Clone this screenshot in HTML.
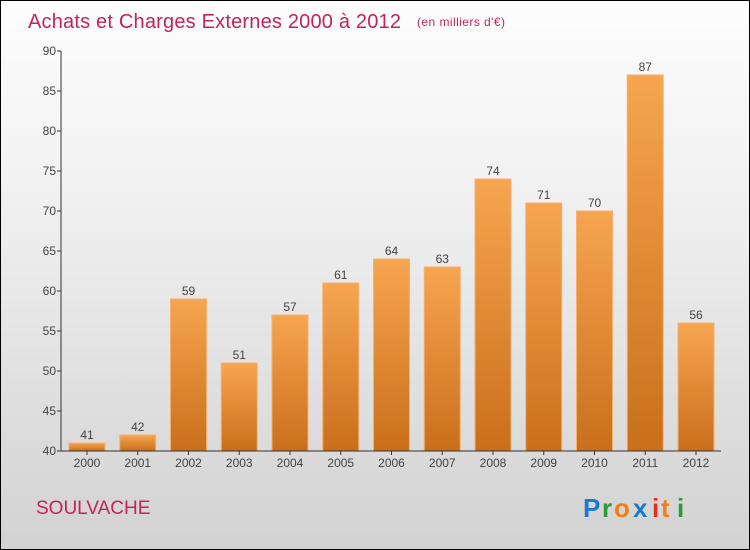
<!DOCTYPE html>
<html><head><meta charset="utf-8"><style>
body{margin:0;}
#c{width:750px;height:550px;position:relative;box-sizing:border-box;border:1px solid #000;background:linear-gradient(#fdfdfd,#f3f3f3 30%,#d2d2d2);font-family:"Liberation Sans",sans-serif;overflow:hidden}
</style></head><body>
<div id="c">
<svg width="748" height="548" style="position:absolute;left:0;top:0" id="svg">
<defs><linearGradient id="bg" x1="0" y1="0" x2="0" y2="1"><stop offset="0" stop-color="#f7a550"/><stop offset="1" stop-color="#c96f1c"/></linearGradient></defs>
<text x="27" y="27" font-size="20" textLength="373" fill="#c2245a">Achats et Charges Externes 2000 à 2012</text>
<text x="416" y="25" font-size="12" textLength="88" fill="#c2245a">(en milliers d'€)</text>
<text x="35" y="513" font-size="19" fill="#c2245a">SOULVACHE</text>
<g font-size="26" font-weight="bold" font-family="'Liberation Sans',sans-serif">
<text x="582" y="516" fill="#1a78d0">P</text><text x="601" y="516" fill="#2a9a3a">r</text><text x="613" y="516" fill="#f08010">o</text><text x="632" y="516" fill="#1a78d0">x</text><text x="651" y="516" fill="#e03020">i</text><text x="660" y="516" fill="#f08010">t</text><text x="676" y="516" fill="#2a9a3a">i</text>
</g>
<g id="plot"></g>
</svg>
</div>
<script>
const categories=["2000","2001","2002","2003","2004","2005","2006","2007","2008","2009","2010","2011","2012"];
const values=[41,42,59,51,57,61,64,63,74,71,70,87,56];
const yTicks=[40,45,50,55,60,65,70,75,80,85,90];
const NS="http://www.w3.org/2000/svg";
const g=document.getElementById('plot');
const x0=60,x1=720,yMin=40,yMax=90,yB=450,yT=50;
const y=v=>yB-(v-yMin)/(yMax-yMin)*(yB-yT);
function mk(t,a,txt){const e=document.createElementNS(NS,t);for(const k in a)e.setAttribute(k,a[k]);if(txt!=null)e.textContent=txt;g.appendChild(e);return e;}
yTicks.forEach(t=>{
 const l=mk('line',{x1:x0-4,x2:x0,y1:y(t),y2:y(t),stroke:'#333'});
 
 
 const tx=mk('text',{x:x0-5,y:y(t)+4,'text-anchor':'end','font-size':12,fill:'#444'},t);
 
 
});
categories.forEach((c,i)=>{
 const cx=86+i*50.75,w=36;
 const r=mk('rect',{x:cx-w/2,y:y(values[i]),width:w,height:yB-y(values[i]),fill:'url(#bg)',stroke:'#f7b070','stroke-width':1});
 
 
 const v=mk('text',{x:cx,y:y(values[i])-4,'text-anchor':'middle','font-size':12,fill:'#444'},values[i]);
 
 
 const xl=mk('text',{x:cx,y:yB+16,'text-anchor':'middle','font-size':12,fill:'#444'},c);
 
 
 const tk=mk('line',{x1:cx,x2:cx,y1:yB,y2:yB+4,stroke:'#333'});
 
 
});
const ax=mk('line',{x1:x0,x2:x0,y1:yT,y2:yB,stroke:'#333'});


const bx=mk('line',{x1:x0,x2:x1,y1:yB,y2:yB,stroke:'#333'});


</script>
</body></html>
